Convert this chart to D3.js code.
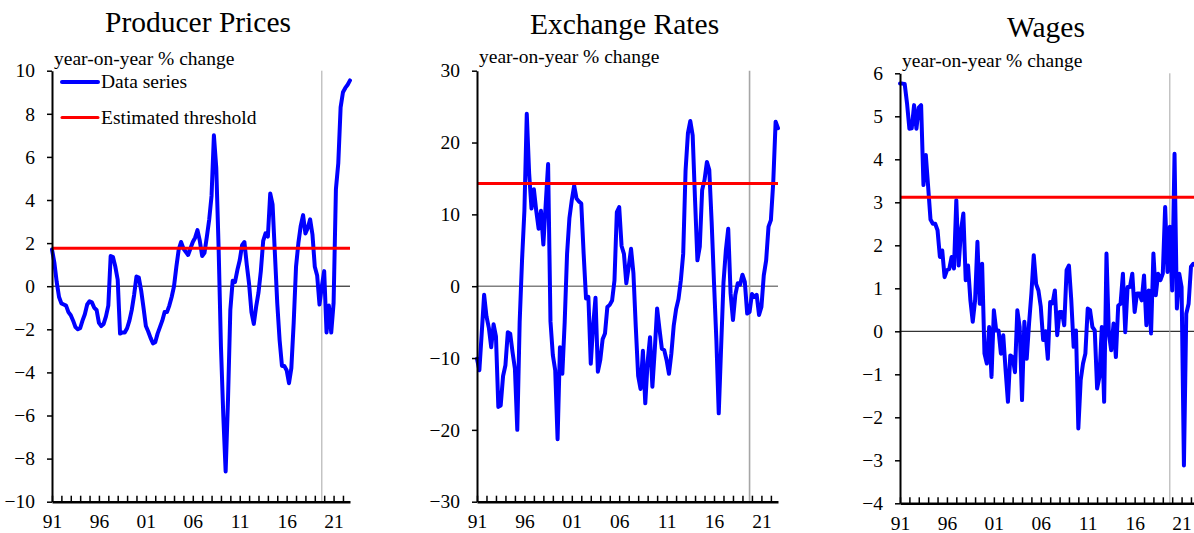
<!DOCTYPE html>
<html>
<head>
<meta charset="utf-8">
<script src="https://cdn.jsdelivr.net/npm/d3@7"></script>
<style>
  body { margin: 0; background: #fff; }
  svg { display: block; }
</style>
</head>
<body>
<svg id="chart" width="1194" height="533"></svg>
<script>
// quarterly series, first point = 1991 Q1
const startYear = 1991;
const endYear = 2022.75;
const breakYear = 2019.75;

const producerPrices = [
  1.7, 1.1, 0.2, -0.5, -0.8, -0.85, -0.9, -1.2, -1.35, -1.6,
  -1.9, -2.0, -1.95, -1.6, -1.3, -0.85, -0.7, -0.75, -1.0, -1.1,
  -1.7, -1.85, -1.75, -1.4, -0.9, 1.4, 1.35, 0.9, 0.3, -2.2,
  -2.15, -2.15, -1.95, -1.6, -1.1, -0.4, 0.45, 0.4, -0.2, -1.0,
  -1.85, -2.1, -2.4, -2.65, -2.6, -2.2, -1.9, -1.6, -1.2, -1.2,
  -0.9, -0.5, 0.0, 0.9, 1.7, 2.05, 1.75, 1.6, 1.45, 1.75,
  2.05, 2.25, 2.6, 2.1, 1.4, 1.55, 2.3, 3.1, 4.2, 7.0,
  5.5, 1.8, -2.8, -6.0, -8.6, -5.3, -1.1, 0.25, 0.2, 0.75,
  1.2, 1.9, 2.05, 1.0, 0.1, -1.2, -1.75, -0.95, -0.3, 0.7,
  2.1, 2.45, 2.3, 4.3, 3.8, 1.5, -0.8, -2.5, -3.7, -3.7,
  -3.9, -4.5, -3.8, -1.7, 0.9, 2.0, 2.8, 3.3, 2.45, 2.7,
  3.1, 2.4, 0.9, 0.5, -0.85, 0.0, 0.7, -2.15, -0.9, -2.15,
  -0.8, 4.5, 5.7, 8.3, 9.0, 9.2, 9.35, 9.55
];

const exchangeRates = [
  -10.1, -11.7, -6.5, -1.2, -4.2, -5.8, -8.5, -5.3, -7.0, -16.8,
  -16.6, -12.5, -11.0, -6.4, -6.6, -9.2, -11.5, -20.0, -5.0, 3.6,
  10.5, 24.0, 15.7, 10.8, 13.5, 10.5, 8.0, 10.5, 5.8, 11.5,
  17.0, -4.9, -9.6, -11.7, -21.3, -8.5, -12.2, -5.0, 4.5, 9.5,
  12.0, 14.0, 12.2, 11.8, 11.5, 4.5, -1.7, -1.5, -10.8, -5.5,
  -1.6, -11.9, -10.3, -7.4, -6.6, -2.9, -2.6, -2.0, 0.8, 10.3,
  11.0, 5.6, 4.5, 0.4, 2.7, 5.2, 1.8, -5.7, -12.5, -14.3,
  -9.0, -16.3, -10.5, -7.1, -14.0, -8.9, -3.1, -6.0, -8.7, -8.9,
  -10.3, -12.2, -9.4, -5.5, -3.2, -1.8, 0.8, 4.5, 16.1, 21.3,
  23.0, 21.0, 12.0, 3.6, 5.5, 13.4, 14.8, 17.3, 16.2, 9.0,
  0.5, -7.5, -17.7, -8.5, 0.5, 5.0, 8.0, -1.0, -4.7, -1.2,
  0.4, 0.2, 1.6, 0.6, -3.8, -3.6, -1.1, -1.5, -1.2, -4.0,
  -2.9, 1.5, 3.6, 8.3, 9.2, 14.5, 22.9, 22.0
];

const wages = [
  5.76, 5.76, 5.75, 5.3, 4.71, 4.72, 5.26, 4.71, 5.2, 5.26,
  3.4, 4.1, 3.36, 2.6, 2.5, 2.5, 2.35, 1.73, 1.88, 1.26,
  1.42, 1.45, 1.73, 1.46, 3.05, 1.53, 2.35, 2.74, 1.19, 1.53,
  0.72, 0.22, 0.72, 2.08, 0.64, 1.57, -0.52, -0.75, 0.1, -1.06,
  0.49, 0.02, 0.02, -0.52, -0.09, -0.9, -1.64, -0.56, -0.6, -0.95,
  0.49, 0.1, -1.6, 0.22, -0.64, 0.18, 0.88, 1.77, 1.1, 0.95,
  0.57, -0.2, 0.0, -0.64, 0.68, 0.65, 0.95, -0.09, 0.45, 0.45,
  0.14, 1.42, 1.53, 0.72, -0.36, 0.02, -2.26, -1.14, -0.75, -0.52,
  0.53, 0.49, 0.1, 0.02, -1.33, -1.06, 0.1, -1.64, 1.81, -0.05,
  -0.44, 0.18, -0.6, 0.6, 0.64, 1.34, -0.02, 1.03, 1.03, 1.34,
  0.45, 0.88, 0.88, 0.72, 1.3, 0.14, 0.95, -0.05, 1.81, 0.84,
  1.34, 1.19, 1.34, 2.89, 1.38, 2.43, 0.95, 4.13, 0.53, 1.34,
  1.03, -3.12, 0.41, 0.64, 1.5, 1.57, 1.55, 1.6
];

const thresholds = [1.76, 14.3, 3.12];
const titles = ['Producer Prices', 'Exchange Rates', 'Wages'];
const yTicksPP = d3.range(-10, 11, 2);
const yTicksFX = d3.range(-30, 31, 10);
const yTicksW  = d3.range(-4, 7, 1);
const yearTicks = d3.range(1991, 2023);

const FONT = '"Liberation Serif", "Times New Roman", serif';
const LABEL_SIZE = '19.5px';
const svg = d3.select('#chart');

// ─── Panel layout ───────────────────────────────
const panels = [
  { title: titles[0], series: producerPrices, threshold: thresholds[0], yDomain: [-10, 10], yTicks: yTicksPP,
    left: 52, right: 350, top: 70.7, bottom: 501.7, titleY: 32, unitY: 65, zeroColor: '#000', zeroWidth: 1, legend: true },
  { title: titles[1], series: exchangeRates, threshold: thresholds[1], yDomain: [-30, 30], yTicks: yTicksFX,
    left: 477, right: 778, top: 70.7, bottom: 501.7, titleY: 34, unitY: 63, zeroColor: '#808080', zeroWidth: 1.6 },
  { title: titles[2], series: wages, threshold: thresholds[2], yDomain: [-4, 6], yTicks: yTicksW,
    left: 900, right: 1198, top: 73.3, bottom: 503.3, titleY: 37, unitY: 67, zeroColor: '#000', zeroWidth: 1 }
];

panels.forEach(drawPanel);

function drawPanel(p) {
  const x = d3.scaleLinear().domain([startYear, endYear]).range([p.left, p.right]);
  const y = d3.scaleLinear().domain(p.yDomain).range([p.bottom, p.top]);
  const g = svg.append('g');
  const data = p.series.map((v, i) => ({ t: startYear + i / 4, v }));

  // title + unit
  g.append('text')
    .attr('x', (p.left + p.right) / 2 - 3).attr('y', p.titleY)
    .attr('text-anchor', 'middle')
    .style('font-family', FONT).style('font-size', '29.5px')
    .text(p.title);
  g.append('text')
    .attr('x', p.left + 2).attr('y', p.unitY)
    .style('font-family', FONT).style('font-size', LABEL_SIZE)
    .text('year-on-year % change');

  // zero line
  g.append('line')
    .attr('x1', x(startYear)).attr('x2', x(endYear))
    .attr('y1', y(0)).attr('y2', y(0))
    .attr('stroke', p.zeroColor).attr('stroke-width', p.zeroWidth);

  // break marker
  g.append('line')
    .attr('x1', x(breakYear)).attr('x2', x(breakYear))
    .attr('y1', y.range()[0]).attr('y2', y.range()[1])
    .attr('stroke', '#a6a6a6').attr('stroke-width', p.zeroWidth > 1 ? 1.6 : 1);

  // data series
  g.append('path')
    .datum(data)
    .attr('fill', 'none')
    .attr('stroke', '#0000ff')
    .attr('stroke-width', 4)
    .attr('stroke-linejoin', 'round')
    .attr('stroke-linecap', 'round')
    .attr('d', d3.line().x(d => x(d.t)).y(d => y(d.v)));

  // threshold
  g.append('line')
    .attr('x1', x(startYear)).attr('x2', x(endYear))
    .attr('y1', y(p.threshold)).attr('y2', y(p.threshold))
    .attr('stroke', '#ff0000').attr('stroke-width', 3);

  // axes
  const yAxis = g.append('g')
    .attr('transform', `translate(${p.left},0)`)
    .call(d3.axisLeft(y).tickValues(p.yTicks).tickSizeInner(5).tickSizeOuter(0).tickPadding(12));
  yAxis.select('.domain').attr('stroke-width', 2);
  yAxis.selectAll('.tick line').attr('stroke-width', 1.5);
  yAxis.selectAll('text')
    .style('font-family', FONT).style('font-size', LABEL_SIZE).attr('fill', '#000');

  const xAxis = g.append('g')
    .attr('transform', `translate(0,${p.bottom})`)
    .call(d3.axisBottom(x).tickValues(yearTicks)
      .tickFormat(d => (d - startYear) % 5 === 0 ? String(d).slice(2) : '')
      .tickSizeInner(-6).tickSizeOuter(0).tickPadding(12.5));
  xAxis.select('.domain').attr('stroke-width', 2.5);
  xAxis.selectAll('.tick line').attr('stroke-width', 1.5);
  xAxis.selectAll('text')
    .style('font-family', FONT).style('font-size', LABEL_SIZE).attr('fill', '#000');

  if (p.legend) {
    const items = [
      { label: 'Data series', color: '#0000ff', w: 4, yy: 82 },
      { label: 'Estimated threshold', color: '#ff0000', w: 3, yy: 117.5 }
    ];
    items.forEach(it => {
      g.append('line')
        .attr('x1', p.left + 10).attr('x2', p.left + 46)
        .attr('y1', it.yy).attr('y2', it.yy)
        .attr('stroke', it.color).attr('stroke-width', it.w)
        .attr('stroke-linecap', 'round');
      g.append('text')
        .attr('x', p.left + 49).attr('y', it.yy + 6)
        .style('font-family', FONT).style('font-size', LABEL_SIZE)
        .text(it.label);
    });
  }
}
</script>
</body>
</html>
